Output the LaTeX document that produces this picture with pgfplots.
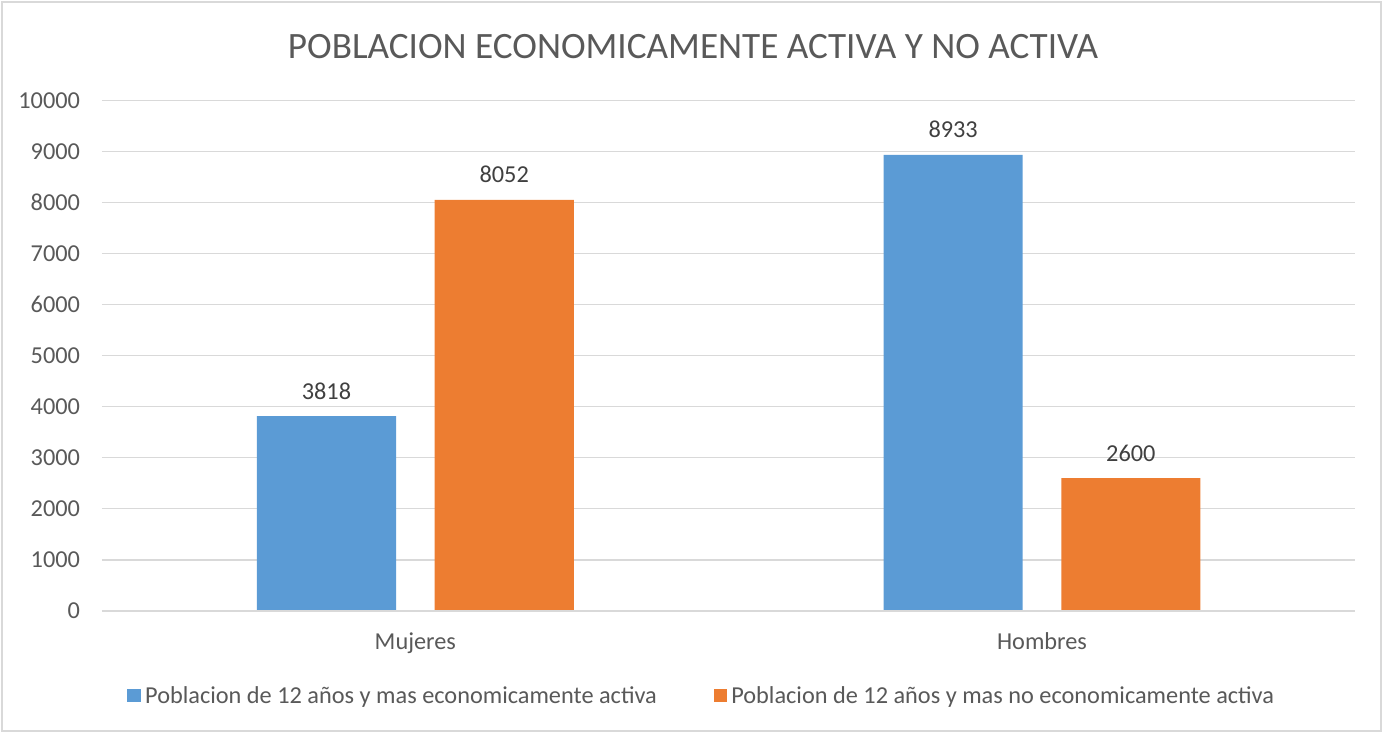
\documentclass[border=0pt]{standalone}
\usepackage{fontspec}
\setmainfont{Carlito}
\usepackage{pgfplots}
\pgfplotsset{compat=1.18}
\definecolor{barblue}{HTML}{5B9BD5}
\definecolor{barorange}{HTML}{ED7D31}
\definecolor{gridgray}{HTML}{D9D9D9}
\definecolor{txtgray}{HTML}{595959}
\definecolor{lblgray}{HTML}{404040}
\begin{document}
\begin{tikzpicture}[x=0.75bp,y=0.75bp]
  % chart frame (pixel units of the reference, axis box origin at 102,611)
  \useasboundingbox (-102,-122) rectangle (1281,611);
  \draw[gridgray, line width=1.2bp] (-100,-120) rectangle (1279,609);
  \node[txtgray, font=\fontsize{28}{32}\selectfont] at (591,564) {POBLACION ECONOMICAMENTE ACTIVA Y NO ACTIVA};
  \begin{axis}[
      at={(0,0)}, anchor=south west,
      width=940bp, height=383bp, scale only axis,
      xmin=-0.5, xmax=1.5, ymin=0, ymax=10000,
      xtick={0,1}, xticklabels={Mujeres, Hombres},
      ytick={0,1000,...,10000},
      scaled y ticks=false,
      ymajorgrids, grid style={gridgray, line width=0.9bp},
      axis line style={draw=none},
      axis x line*=bottom, axis y line*=left,
      major tick length=0pt,
      tick label style={txtgray, font=\fontsize{18.3}{21}\selectfont},
      /pgf/number format/assume math mode=true,
      /pgf/number format/1000 sep={},
      yticklabel style={xshift=-13bp},
      xticklabel style={yshift=-13bp},
      ybar, bar width=0.222,
      nodes near coords,
      every node near coord/.append style={lblgray, font=\fontsize{18.3}{21}\selectfont, yshift=9bp},
      legend columns=2,
      legend style={draw=none, at={(0.4796,-0.166)}, anchor=center,
        font=\fontsize{18.3}{21}\selectfont, text=txtgray,
        /tikz/every even column/.append style={column sep=39bp},
        /tikz/every odd column/.append style={column sep=0bp},
        nodes={inner xsep=3.5bp}},
      legend image code/.code={\fill[#1] (0bp,-4.9bp) rectangle (9.8bp,4.9bp);},
    ]
    \addplot[fill=barblue, draw=none, bar shift=-0.1418] coordinates {(0,3818) (1,8933)};
    \addplot[fill=barorange, draw=none, bar shift=0.1418] coordinates {(0,8052) (1,2600)};
    \draw[gridgray, line width=0.9bp] (rel axis cs:0,0) -- (rel axis cs:1,0);
    \legend{Poblacion de 12 años y mas economicamente activa, Poblacion de 12 años y mas no economicamente activa}
  \end{axis}
\end{tikzpicture}
\end{document}
